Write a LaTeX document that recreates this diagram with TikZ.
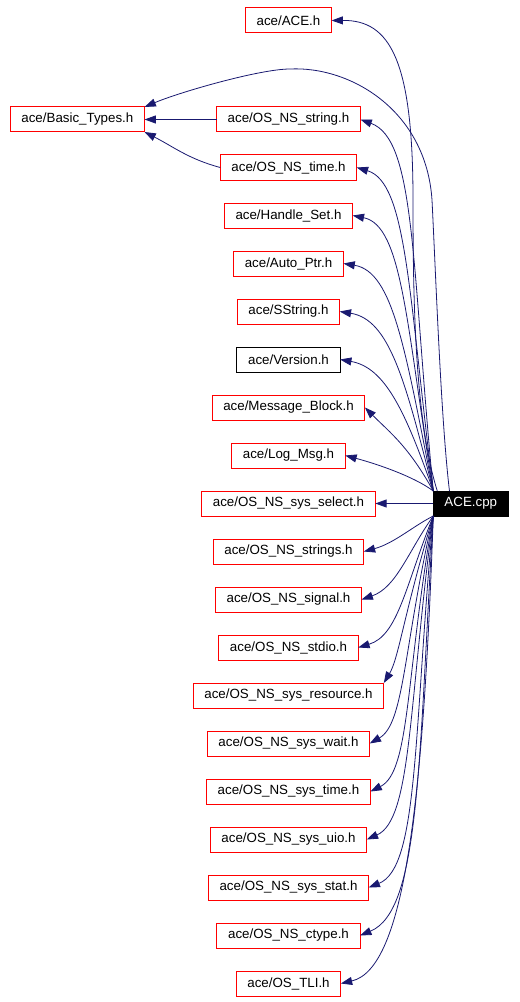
\documentclass[tikz,border=0pt]{standalone}
\usepackage{fontspec}
\setmainfont{Liberation Sans}
\usepackage{tikz}
\usetikzlibrary{arrows.meta,positioning}
\definecolor{dxedge}{RGB}{25,25,112}
\definecolor{dxred}{RGB}{255,0,0}
\tikzset{
  dxbox/.style={
    draw=dxred, line width=0.75pt, align=center, outer sep=0pt,
    inner xsep=8.4pt, inner ysep=0pt, minimum height=18.75pt,
    font=\fontsize{10}{12}\selectfont
  },
  hdr/.style={dxbox},
  undoc/.style={dxbox, draw=black},
  src/.style={dxbox, draw=black, fill=black, text=white},
  dep/.style={-{Triangle[length=8.5pt,width=6pt]}, draw=dxedge, line width=0.6pt}
}
\begin{document}
\begin{tikzpicture}[x=0.75pt, y=0.75pt, node distance=17.25pt]
  \useasboundingbox (0,0) rectangle (519,-1002);
  % headers, one column
  \node[hdr] (ace) at (288.5,-20.5) {ace/ACE.h};
  \node[hdr, below=55.5pt of ace] (str) {ace/OS\_NS\_string.h};
  \node[hdr, below=of str] (tm) {ace/OS\_NS\_time.h};
  \node[hdr, below=of tm] (hs) {ace/Handle\_Set.h};
  \node[hdr, below=of hs] (ap) {ace/Auto\_Ptr.h};
  \node[hdr, below=of ap] (ss) {ace/SString.h};
  \node[undoc, below=of ss] (ver) {ace/Version.h};
  \node[hdr, below=of ver] (mb) {ace/Message\_Block.h};
  \node[hdr, below=of mb] (lm) {ace/Log\_Msg.h};
  \node[hdr, below=of lm] (sel) {ace/OS\_NS\_sys\_select.h};
  \node[hdr, below=of sel] (strs) {ace/OS\_NS\_strings.h};
  \node[hdr, below=of strs] (sig) {ace/OS\_NS\_signal.h};
  \node[hdr, below=of sig] (stdio) {ace/OS\_NS\_stdio.h};
  \node[hdr, below=of stdio] (res) {ace/OS\_NS\_sys\_resource.h};
  \node[hdr, below=of res] (wt) {ace/OS\_NS\_sys\_wait.h};
  \node[hdr, below=of wt] (st) {ace/OS\_NS\_sys\_time.h};
  \node[hdr, below=of st] (uio) {ace/OS\_NS\_sys\_uio.h};
  \node[hdr, below=of uio] (stat) {ace/OS\_NS\_sys\_stat.h};
  \node[hdr, below=of stat] (ct) {ace/OS\_NS\_ctype.h};
  \node[hdr, below=of ct] (tli) {ace/OS\_TLI.h};
  \node[hdr, left=54pt of str] (bas) {ace/Basic\_Types.h};
  \node[src, right=43.5pt of sel] (cpp) {ACE.cpp};

  % second level
  \draw[dep] (str) -- (bas);
  \draw[dep] (tm.west) to[out=165, in=-27] (bas.south east);

  % ACE.cpp, upwards
  \draw[dep] ([xshift=3pt]cpp.north west) .. controls (415,-420) and (413,-300) .. (413,-200)
    .. controls (413,-60) and (390,-20) .. (ace.east);
  \draw[dep] ([xshift=-16pt]cpp.north) .. controls (441,-420) and (436,-280) .. (432,-200)
    .. controls (426,-110) and (350,-66) .. (290,-69)
    .. controls (260,-69) and (180,-92) .. (bas.north east);
  \draw[dep] (cpp.north west) .. controls +(-22,230) and +(55,-20) .. (str.east);
  \draw[dep] (cpp.north west) .. controls +(-25,200) and +(50,-15) .. (tm.east);
  \draw[dep] (cpp.north west) .. controls +(-27,165) and +(50,-10) .. (hs.east);
  \draw[dep] (cpp.north west) .. controls +(-28,140) and +(50,-8) .. (ap.east);
  \draw[dep] (cpp.north west) .. controls +(-28,110) and +(50,-8) .. (ss.east);
  \draw[dep] (cpp.north west) .. controls +(-28,80) and +(45,-8) .. (ver.east);
  \draw[dep] (cpp.north west) .. controls +(-25,45) and +(25,-25) .. (mb.east);
  \draw[dep] (cpp.north west) .. controls +(-20,15) and +(30,-8) .. (lm.east);
  \draw[dep] (cpp) -- (sel);

  % ACE.cpp, downwards
  \draw[dep] (cpp.south west) .. controls +(-20,-10) and +(30,8) .. (strs.east);
  \draw[dep] (cpp.south west) .. controls +(-25,-35) and +(35,12) .. (sig.east);
  \draw[dep] (cpp.south west) .. controls +(-28,-70) and +(40,12) .. (stdio.east);
  \draw[dep] (cpp.south west) .. controls +(-30,-100) and +(15,25) .. (res.north east);
  \draw[dep] (cpp.south west) .. controls +(-30,-130) and +(35,20) .. (wt.east);
  \draw[dep] (cpp.south west) .. controls +(-28,-160) and +(40,20) .. (st.east);
  \draw[dep] (cpp.south west) .. controls +(-25,-190) and +(45,20) .. (uio.east);
  \draw[dep] (cpp.south west) .. controls +(-20,-220) and +(50,20) .. (stat.east);
  \draw[dep] (cpp.south west) .. controls +(-15,-250) and +(60,25) .. (ct.east);
  \draw[dep] (cpp.south west) .. controls +(-10,-280) and +(65,15) .. (tli.east);
\end{tikzpicture}
\end{document}
